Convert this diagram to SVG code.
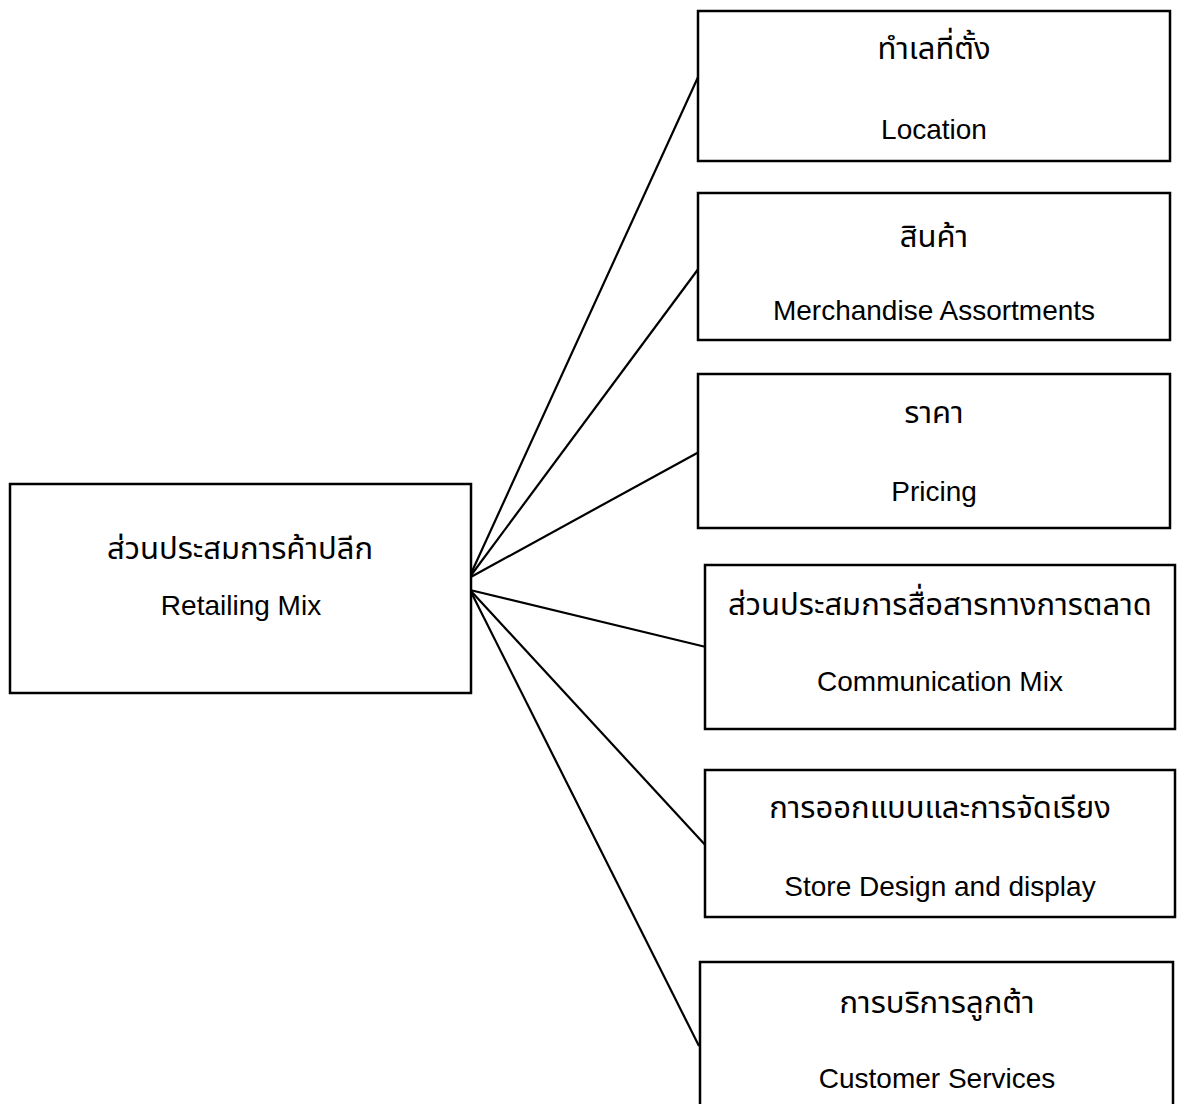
<svg xmlns="http://www.w3.org/2000/svg" width="1178" height="1104" viewBox="0 0 1178 1104">
<style>
.box{fill:#fff;stroke:#000;stroke-width:2.5}
.con{stroke:#000;stroke-width:2.2;fill:none}
.t{font-family:"Liberation Sans","Noto Sans Thai","Noto Sans","DejaVu Sans",sans-serif;font-size:28px;fill:#000;text-anchor:middle}
.th{font-size:31px}
</style>
<rect width="1178" height="1104" fill="#fff"/>
<g id="connectors">
<line class="con" x1="469" y1="578" x2="699" y2="75"/>
<line class="con" x1="469" y1="578" x2="699" y2="268"/>
<line class="con" x1="469" y1="578" x2="699" y2="452"/>
<line class="con" x1="470" y1="590" x2="706" y2="647"/>
<line class="con" x1="470" y1="590" x2="708" y2="848"/>
<line class="con" x1="470" y1="590" x2="699" y2="1046"/>
</g>
<g id="retailing-mix">
<rect class="box" x="10" y="484" width="461" height="209"/>
<text class="t th" x="240" y="559">ส่วนประสมการค้าปลีก</text>
<text class="t" x="241" y="615">Retailing Mix</text>
</g>
<g id="location">
<rect class="box" x="698" y="11" width="472" height="150"/>
<text class="t th" x="934" y="59">ทำเลที่ตั้ง</text>
<text class="t" x="934" y="139">Location</text>
</g>
<g id="merchandise">
<rect class="box" x="698" y="193" width="472" height="147"/>
<text class="t th" x="934" y="247">สินค้า</text>
<text class="t" x="934" y="320">Merchandise Assortments</text>
</g>
<g id="pricing">
<rect class="box" x="698" y="374" width="472" height="154"/>
<text class="t th" x="934" y="423">ราคา</text>
<text class="t" x="934" y="501">Pricing</text>
</g>
<g id="communication">
<rect class="box" x="705" y="565" width="470" height="164"/>
<text class="t th" x="940" y="615">ส่วนประสมการสื่อสารทางการตลาด</text>
<text class="t" x="940" y="691">Communication Mix</text>
</g>
<g id="store-design">
<rect class="box" x="705" y="770" width="470" height="147"/>
<text class="t th" x="940" y="818">การออกแบบและการจัดเรียง</text>
<text class="t" x="940" y="896">Store Design and display</text>
</g>
<g id="customer-services">
<rect class="box" x="700" y="962" width="473" height="146"/>
<text class="t th" x="937" y="1013">การบริการลูกต้า</text>
<text class="t" x="937" y="1088">Customer Services</text>
</g>
</svg>
